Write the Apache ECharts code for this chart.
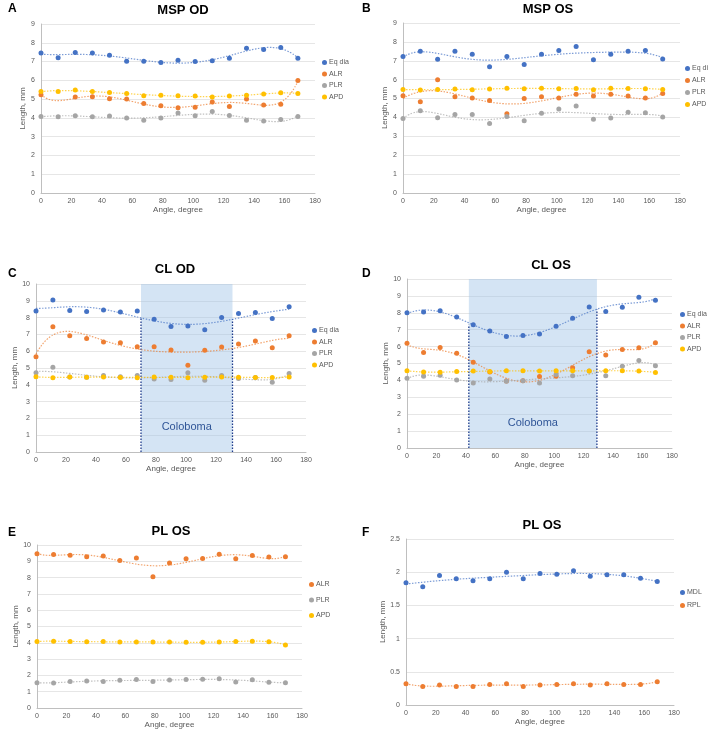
<!DOCTYPE html>
<html>
<head>
<meta charset="utf-8">
<script src="https://cdn.jsdelivr.net/npm/echarts@6/dist/echarts.min.js"></script>
<style>
  html, body { margin: 0; padding: 0; background: #fff; }
  #chart { width: 708px; height: 730px; }
</style>
</head>
<body>
<div id="chart"></div>
<script>
// angles (degree) shared by every panel
const angles = [0, 11.25, 22.5, 33.75, 45, 56.25, 67.5, 78.75, 90, 101.25, 112.5, 123.75, 135, 146.25, 157.5, 168.75];

// A  MSP OD
const mspOdEq  = [7.45, 7.2, 7.48, 7.46, 7.34, 7.02, 7.02, 6.95, 7.07, 7.0, 7.04, 7.18, 7.71, 7.64, 7.75, 7.18];
const mspOdAlr = [5.23, null, 5.11, 5.12, 5.02, 5.0, 4.77, 4.65, 4.54, 4.56, 4.84, 4.61, 5.0, 4.68, 4.73, 5.99];
const mspOdPlr = [4.08, 4.06, 4.11, 4.06, 4.1, 4.0, 3.88, 4.0, 4.26, 4.11, 4.34, 4.13, 3.88, 3.83, 3.92, 4.08];
const mspOdApd = [5.41, 5.41, 5.48, 5.41, 5.35, 5.3, 5.18, 5.21, 5.18, 5.16, 5.11, 5.16, 5.21, 5.27, 5.34, 5.3];

// B  MSP OS
const mspOsEq  = [7.22, 7.5, 7.08, 7.5, 7.35, 6.68, 7.22, 6.8, 7.35, 7.55, 7.75, 7.05, 7.35, 7.5, 7.55, 7.1];
const mspOsAlr = [5.15, 4.83, 6.0, 5.1, 5.03, 4.9, 4.2, 5.0, 5.1, 5.03, 5.23, 5.13, 5.23, 5.13, 5.03, 5.27];
const mspOsPlr = [3.95, 4.35, 3.98, 4.15, 4.15, 3.68, 4.05, 3.83, 4.22, 4.45, 4.6, 3.9, 3.97, 4.28, 4.25, 4.02];
const mspOsApd = [5.48, 5.45, 5.48, 5.5, 5.47, 5.5, 5.55, 5.52, 5.55, 5.52, 5.53, 5.47, 5.55, 5.53, 5.52, 5.48];

// C  CL OD
const clOdEq  = [8.4, 9.05, 8.42, 8.37, 8.45, 8.33, 8.4, 7.9, 7.47, 7.5, 7.27, 8.0, 8.25, 8.3, 7.95, 8.65];
const clOdAlr = [5.67, 7.45, 6.92, 6.75, 6.55, 6.5, 6.27, 6.27, 6.07, 5.17, 6.05, 6.25, 6.43, 6.6, 6.2, 6.92];
const clOdPlr = [4.72, 5.05, 4.47, 4.45, 4.55, 4.48, 4.55, 4.35, 4.32, 4.72, 4.27, 4.55, 4.38, 4.43, 4.15, 4.68];
const clOdApd = [4.48, 4.42, 4.47, 4.45, 4.47, 4.43, 4.42, 4.47, 4.45, 4.42, 4.45, 4.47, 4.45, 4.43, 4.43, 4.47];
const clOdColoboma = [70, 131];
const clOdEdgeTop = [8.0, 7.9];

// D  CL OS
const clOsEq  = [8.0, 8.05, 8.12, 7.75, 7.3, 6.92, 6.6, 6.65, 6.75, 7.2, 7.68, 8.35, 8.07, 8.33, 8.92, 8.75];
const clOsAlr = [6.2, 5.65, 5.95, 5.6, 5.08, 4.5, 3.97, 3.98, 4.23, 4.25, 4.75, 5.7, 5.5, 5.83, 5.93, 6.23];
const clOsPlr = [4.12, 4.25, 4.3, 4.02, 3.85, 4.08, 3.95, 3.98, 3.85, 4.35, 4.27, 4.55, 4.27, 4.83, 5.18, 4.87];
const clOsApd = [4.57, 4.5, 4.48, 4.52, 4.55, 4.52, 4.57, 4.57, 4.55, 4.57, 4.57, 4.55, 4.57, 4.57, 4.55, 4.47];
const clOsColoboma = [42, 129];
const clOsEdgeTop = [7.3, 8.2];

// E  PL OS
const plOsAlr = [9.47, 9.42, 9.37, 9.28, 9.33, 9.05, 9.2, 8.05, 8.9, 9.15, 9.17, 9.43, 9.15, 9.35, 9.27, 9.28];
const plOsPlr = [1.55, 1.53, 1.62, 1.65, 1.63, 1.7, 1.75, 1.63, 1.72, 1.75, 1.77, 1.8, 1.6, 1.73, 1.58, 1.55];
const plOsApd = [4.08, 4.1, 4.08, 4.07, 4.08, 4.05, 4.05, 4.05, 4.05, 4.03, 4.03, 4.05, 4.08, 4.1, 4.07, 3.87];

// F  PL OS
const plOsMdl = [1.84, 1.78, 1.95, 1.9, 1.87, 1.9, 2.0, 1.9, 1.98, 1.97, 2.02, 1.94, 1.96, 1.96, 1.91, 1.86];
const plOsRpl = [0.32, 0.28, 0.3, 0.28, 0.28, 0.31, 0.32, 0.28, 0.3, 0.31, 0.32, 0.3, 0.32, 0.31, 0.31, 0.35];

const colors = {
  'Eq dia': '#4472C4', 'MDL': '#4472C4',
  'ALR': '#ED7D31', 'RPL': '#ED7D31',
  'PLR': '#A5A5A5', 'APD': '#FFC000'
};

// order-6 least squares trendline, like the spreadsheet one
function polyfit(xs, ys, deg) {
  const c = 84.375, n = deg + 1;
  const A = [], b = [];
  for (let i = 0; i < n; i++) { A.push(new Array(n).fill(0)); b.push(0); }
  xs.forEach((x, k) => {
    const y = ys[k];
    if (y == null) return;
    const t = (x - c) / c;
    const p = [];
    for (let i = 0; i < n; i++) p.push(Math.pow(t, i));
    for (let i = 0; i < n; i++) {
      b[i] += p[i] * y;
      for (let j = 0; j < n; j++) A[i][j] += p[i] * p[j];
    }
  });
  for (let i = 0; i < n; i++) {
    let m = i;
    for (let r = i + 1; r < n; r++) if (Math.abs(A[r][i]) > Math.abs(A[m][i])) m = r;
    [A[i], A[m]] = [A[m], A[i]]; [b[i], b[m]] = [b[m], b[i]];
    for (let r = i + 1; r < n; r++) {
      const f = A[r][i] / A[i][i];
      for (let j = i; j < n; j++) A[r][j] -= f * A[i][j];
      b[r] -= f * b[i];
    }
  }
  const coef = new Array(n).fill(0);
  for (let i = n - 1; i >= 0; i--) {
    let s = b[i];
    for (let j = i + 1; j < n; j++) s -= A[i][j] * coef[j];
    coef[i] = s / A[i][i];
  }
  return x => {
    const t = (x - c) / c;
    let v = 0;
    for (let i = n - 1; i >= 0; i--) v = v * t + coef[i];
    return v;
  };
}

const panels = [
  { letter: 'A', title: 'MSP OD', grid: { left: 41, top: 24, width: 274, height: 169 },
    yMax: 9, yStep: 1, titlePos: [183, 10], letterPos: [8, 9],
    legend: { left: 322, top: 59, itemGap: 4.5 },
    series: [['Eq dia', mspOdEq], ['ALR', mspOdAlr], ['PLR', mspOdPlr], ['APD', mspOdApd]] },
  { letter: 'B', title: 'MSP OS', grid: { left: 403, top: 23, width: 277, height: 170 },
    yMax: 9, yStep: 1, titlePos: [548, 9], letterPos: [362, 9],
    legend: { left: 685, top: 65, itemGap: 5 },
    series: [['Eq dia', mspOsEq], ['ALR', mspOsAlr], ['PLR', mspOsPlr], ['APD', mspOsApd]] },
  { letter: 'C', title: 'CL OD', grid: { left: 36, top: 284, width: 270, height: 168 },
    yMax: 10, yStep: 1, titlePos: [175, 269], letterPos: [8, 274],
    legend: { left: 312, top: 327, itemGap: 4.5 },
    band: clOdColoboma, edgeTop: clOdEdgeTop,
    series: [['Eq dia', clOdEq], ['ALR', clOdAlr], ['PLR', clOdPlr], ['APD', clOdApd]] },
  { letter: 'D', title: 'CL OS', grid: { left: 407, top: 279, width: 265, height: 169 },
    yMax: 10, yStep: 1, titlePos: [551, 265], letterPos: [362, 274],
    legend: { left: 680, top: 311, itemGap: 4.5 },
    band: clOsColoboma, edgeTop: clOsEdgeTop,
    series: [['Eq dia', clOsEq], ['ALR', clOsAlr], ['PLR', clOsPlr], ['APD', clOsApd]] },
  { letter: 'E', title: 'PL OS', grid: { left: 37, top: 545, width: 265, height: 163 },
    yMax: 10, yStep: 1, titlePos: [171, 531], letterPos: [8, 533],
    legend: { left: 309, top: 581, itemGap: 8.5 },
    series: [['ALR', plOsAlr], ['PLR', plOsPlr], ['APD', plOsApd]] },
  { letter: 'F', title: 'PL OS', grid: { left: 406, top: 539, width: 268, height: 166 },
    yMax: 2.5, yStep: 0.5, titlePos: [542, 525], letterPos: [362, 533],
    legend: { left: 680, top: 589, itemGap: 6 },
    series: [['MDL', plOsMdl], ['RPL', plOsRpl]] }
];

const grids = [], xAxes = [], yAxes = [], legends = [], series = [], graphics = [];
const axisText = { color: '#595959', fontSize: 7, fontFamily: 'Liberation Sans' };

panels.forEach((p, gi) => {
  grids.push(Object.assign({ containLabel: false, outerBoundsMode: 'none' }, p.grid));
  xAxes.push({
    type: 'value', gridIndex: gi, min: 0, max: 180, interval: 20,
    name: 'Angle, degree', nameLocation: 'middle', nameGap: 13,
    nameTextStyle: Object.assign({}, axisText, { fontSize: 8 }),
    axisLine: { show: true, lineStyle: { color: '#BFBFBF' } },
    axisTick: { show: false },
    axisLabel: Object.assign({ margin: 5 }, axisText),
    splitLine: { show: false }
  });
  yAxes.push({
    type: 'value', gridIndex: gi, min: 0, max: p.yMax, interval: p.yStep,
    name: 'Length, mm', nameLocation: 'middle', nameGap: 14,
    nameTextStyle: Object.assign({}, axisText, { fontSize: 8 }),
    axisLine: { show: true, lineStyle: { color: '#BFBFBF' } },
    axisTick: { show: false },
    axisLabel: Object.assign({ margin: 6 }, axisText),
    splitLine: { show: true, lineStyle: { color: '#E6E6E6' } }
  });
  legends.push(Object.assign({
    orient: 'vertical', icon: 'circle', itemWidth: 5, itemHeight: 5,
    selectedMode: false, padding: 0,
    textStyle: { color: '#595959', fontSize: 7, fontFamily: 'Liberation Sans', padding: [0, 0, 0, -3] },
    data: p.series.map(s => ({ name: s[0], itemStyle: { color: colors[s[0]] } }))
  }, p.legend));

  graphics.push({ type: 'text', x: p.titlePos[0], y: p.titlePos[1],
    style: { text: p.title, font: 'bold 13px "Liberation Sans"', fill: '#000', textAlign: 'center', textVerticalAlign: 'middle' } });
  graphics.push({ type: 'text', x: p.letterPos[0], y: p.letterPos[1],
    style: { text: p.letter, font: 'bold 12px "Liberation Sans"', fill: '#000', textAlign: 'left', textVerticalAlign: 'middle' } });

  if (p.band) {
    series.push({
      type: 'line', xAxisIndex: gi, yAxisIndex: gi, data: [], silent: true, z: 1,
      markArea: {
        silent: true,
        itemStyle: { color: 'rgba(160,196,230,0.45)' },
        label: { show: true, position: ['50%', '85%'], align: 'center', verticalAlign: 'middle',
          color: '#2F5597', fontSize: 11, fontFamily: 'Liberation Sans' },
        data: [[{ name: 'Coloboma', xAxis: p.band[0], yAxis: 0 }, { xAxis: p.band[1], yAxis: p.yMax }]]
      }
    });
    p.band.forEach((bx, k) => {
      series.push({
        type: 'line', xAxisIndex: gi, yAxisIndex: gi, silent: true, z: 3,
        showSymbol: false, symbol: 'none',
        lineStyle: { color: '#1F3B8C', width: 1.3, type: [1.5, 1.5] },
        data: [[bx, 0], [bx, p.edgeTop[k]]]
      });
    });
  }

  p.series.forEach(([name, vals]) => {
    const fit = polyfit(angles, vals, 6);
    const trend = [];
    for (let x = 0; x <= 168.75; x += 1.25) trend.push([x, fit(x)]);
    series.push({
      type: 'line', xAxisIndex: gi, yAxisIndex: gi, silent: true, z: 4,
      showSymbol: false, symbol: 'none', smooth: true,
      lineStyle: { color: colors[name], width: 1.2, type: [1.5, 1.5], opacity: 0.7 },
      data: trend
    });
    series.push({
      name: name, type: 'scatter', xAxisIndex: gi, yAxisIndex: gi, z: 5,
      symbolSize: 5, itemStyle: { color: colors[name], opacity: 1 },
      data: angles.map((a, i) => vals[i] == null ? null : [a, vals[i]]).filter(d => d)
    });
  });
});

const chart = echarts.init(document.getElementById('chart'), null, { renderer: 'canvas' });
chart.setOption({
  animation: false,
  backgroundColor: '#fff',
  grid: grids,
  xAxis: xAxes,
  yAxis: yAxes,
  legend: legends,
  series: series,
  graphic: graphics
});
</script>
</body>
</html>
